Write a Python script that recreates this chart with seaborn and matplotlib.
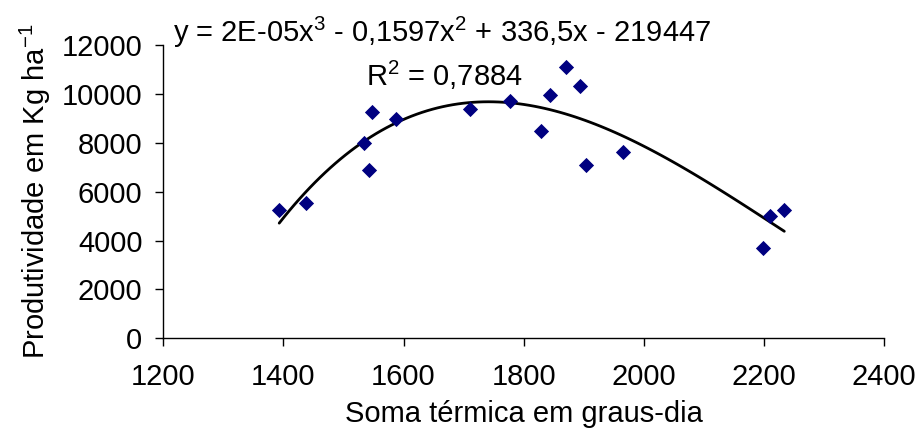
import numpy as np
import pandas as pd
import matplotlib
matplotlib.use("Agg")
import matplotlib.pyplot as plt
import seaborn as sns

# Data
soma_termica = [1393, 1438, 1547, 1535, 1542, 1588, 1710, 1777, 1829, 1844,
                1870, 1894, 1904, 1965, 2198, 2211, 2234]
produtividade = [5247, 5546, 9256, 8000, 6883, 8957, 9391, 9718, 8491, 9939,
                 11108, 10331, 7088, 7640, 3706, 5014, 5247]
x_ticks = [1200, 1400, 1600, 1800, 2000, 2200, 2400]
y_ticks = [0, 2000, 4000, 6000, 8000, 10000, 12000]
equation = "y = 2E-05x$^{3}$ - 0,1597x$^{2}$ + 336,5x - 219447"
r2_text = "R$^{2}$ = 0,7884"

df = pd.DataFrame({"x": soma_termica, "y": produtividade})

sns.set_theme(style="white")
plt.rcParams["font.family"] = ["Liberation Sans", "DejaVu Sans"]
plt.rcParams["mathtext.fontset"] = "custom"
plt.rcParams["mathtext.rm"] = "Liberation Sans"
plt.rcParams["mathtext.it"] = "Liberation Sans"
plt.rcParams["mathtext.default"] = "regular"
plt.rcParams["text.color"] = "black"
plt.rcParams["axes.labelcolor"] = "black"

FS = 21

fig = plt.figure(figsize=(9.22, 4.34), dpi=100)
ax = fig.add_axes([0.1771, 0.2205, 0.9588 - 0.1771, 0.8963 - 0.2205])

sns.regplot(data=df, x="x", y="y", order=3, ci=None, ax=ax, marker="D",
            scatter_kws=dict(s=60, color="#000080", alpha=1, linewidths=0, zorder=3),
            line_kws=dict(color="black", lw=2.0, zorder=2))

ax.set_xlim(1200, 2400)
ax.set_ylim(0, 12000)
ax.set_xticks(x_ticks)
ax.set_yticks(y_ticks)
ax.set_xticklabels([str(v) for v in x_ticks])
ax.set_yticklabels([str(v) for v in y_ticks])
for s in ["top", "right"]:
    ax.spines[s].set_visible(False)
for s in ["left", "bottom"]:
    ax.spines[s].set_color("black")
    ax.spines[s].set_linewidth(1.0)
ax.tick_params(axis="both", direction="out", length=6, width=1, colors="black",
               labelsize=FS, bottom=True, left=True)
ax.tick_params(axis="y", pad=9)
ax.tick_params(axis="x", pad=12)

ax.set_xlabel("Soma térmica em graus-dia", fontsize=FS, labelpad=6, color="black")
ax.set_ylabel("Produtividade em Kg ha$^{-1}$", fontsize=FS, labelpad=6, color="black")

fig.text(173 / 922, 1 - 42 / 434, equation, fontsize=FS, ha="left", va="baseline",
         color="black")
fig.text(366 / 922, 1 - 86 / 434, r2_text, fontsize=FS, ha="left", va="baseline",
         color="black")

fig.savefig("out.png", dpi=100)
